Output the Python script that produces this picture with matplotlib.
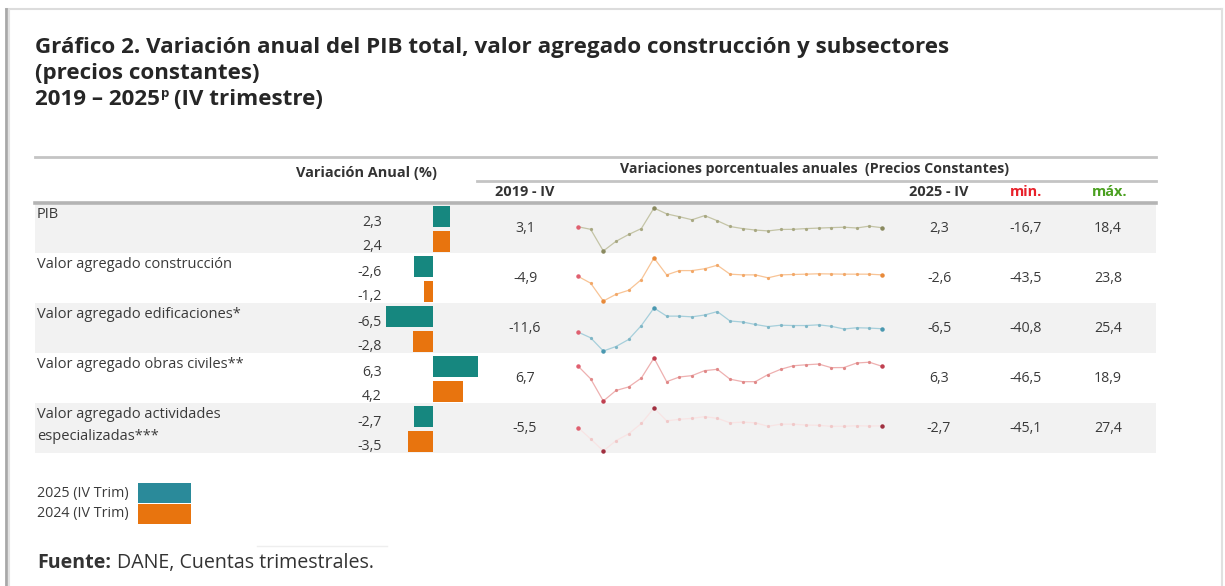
import matplotlib
matplotlib.use("Agg")
import matplotlib.pyplot as plt
from matplotlib.patches import Rectangle

W, H = 1225, 586
FONT = "Open Sans"
plt.rcParams['font.family'] = [FONT, 'DejaVu Sans']

# ---------------- data ----------------
categories = ["PIB", "Valor agregado construcción", "Valor agregado edificaciones*",
              "Valor agregado obras civiles**", "Valor agregado actividades\nespecializadas***"]
var_2025 = [2.3, -2.6, -6.5, 6.3, -2.7]
var_2024 = [2.4, -1.2, -2.8, 4.2, -3.5]
val_2019_iv = [3.1, -4.9, -11.6, 6.7, -5.5]
val_2025_iv = [2.3, -2.6, -6.5, 6.3, -2.7]
val_min = [-16.7, -43.5, -40.8, -46.5, -45.1]
val_max = [18.4, 23.8, 25.4, 18.9, 27.4]
quarters = [f"{y}-{q}" for y, q in [(2019, "IV")] + [(y, q) for y in range(2020, 2026)
                                                       for q in ("I", "II", "III", "IV")]]
pib_series = [3.1, 1.0, -16.7, -8.8, -3.2, 1.6, 18.4, 13.6, 11.3, 8.8, 12.2, 8.0, 3.3,
              1.6, 0.4, -0.3, 0.9, 1.0, 1.6, 2.0, 2.4, 2.7, 2.1, 3.6, 2.3]
construccion_series = [-4.9, -15.6, -43.5, -33.0, -26.7, -10.0, 23.8, -2.6, 4.1, 4.1, 7.0,
                       12.5, -1.5, -2.6, -2.6, -7.2, -2.6, -2.0, -1.5, -0.9, -1.2, -1.5,
                       -1.5, -1.5, -2.6]
edificaciones_series = [-11.6, -20.5, -40.8, -33.9, -23.0, -1.6, 25.4, 12.9, 12.9, 11.8, 14.6,
                        19.9, 5.4, 3.8, 0.0, -3.2, -1.1, -1.6, -1.6, -0.5, -2.8, -6.9, -5.0,
                        -5.5, -6.5]
obras_series = [6.7, -12.8, -46.5, -30.5, -25.1, -11.6, 18.9, -17.1, -10.0, -7.9, -0.3, 1.7,
                -13.3, -17.1, -17.1, -6.3, 1.7, 7.1, 8.6, 9.7, 4.2, 4.4, 11.3, 12.5, 6.3]
actividades_series = [-5.5, -24.8, -45.1, -27.7, -16.1, 1.3, 27.4, 5.8, 8.3, 10.0, 12.8, 10.0,
                      2.4, 3.6, 2.4, -3.4, 0.1, 0.1, -1.3, -1.8, -3.5, -3.4, -2.5, -3.0, -2.7]
series = [pib_series, construccion_series, edificaciones_series, obras_series, actividades_series]
legend_labels = ["2025 (IV Trim)", "2024 (IV Trim)"]

# ---------------- styles ----------------
TEAL = "#16877f"
TEAL_LEG = "#2a8a9a"
ORANGE = "#e8740e"
TXT = "#3a3a3a"
ROW_BG = "#f2f2f2"
spark_line = ["#c4c4a6", "#f8c496", "#a6cfdb", "#eeb0b0", "#f8e4e4"]
spark_mark = ["#a8a882", "#f2a868", "#7fb6c6", "#e08888", "#f0c8c8"]
spark_hi = ["#8a8a60", "#e88a3a", "#4a98b0", "#c04050", "#a03040"]

fig = plt.figure(figsize=(W / 100, H / 100), dpi=100)
fig.patch.set_facecolor("white")
R = fig.canvas.get_renderer()


def rect(x0, y0, x1, y1):
    return [x0 / W, 1 - y1 / H, (x1 - x0) / W, (y1 - y0) / H]


def fit(t, target_w):
    """scale the font size of text t so its rendered width is target_w pixels"""
    w = t.get_window_extent(R).width
    size = t.get_fontsize() * target_w / w
    t.set_fontsize(size)
    return size


ax = fig.add_axes([0, 0, 1, 1])
ax.set_xlim(0, W)
ax.set_ylim(H, 0)
ax.axis("off")

# frame
ax.plot([6, 1222], [9, 9], color="#dcdcdc", lw=1.5)
ax.plot([6, 6], [9, H], color="#a8a8a8", lw=2.0)
ax.plot([8.5, 8.5], [10, H], color="#e2e2e2", lw=1.5)
ax.plot([1222, 1222], [9, H], color="#e0e0e0", lw=1.5)

# title
TC = "#262626"
tt = ax.text(35, 53, "Gráfico 2. Variación anual del PIB total, valor agregado construcción y subsectores",
             fontsize=15, fontweight="bold", color=TC, va="baseline", ha="left")
tfs = fit(tt, 913)
ax.text(35, 79, "(precios constantes)", fontsize=tfs, fontweight="bold", color=TC,
        va="baseline", ha="left")
t1 = ax.text(35, 105, "2019 – 2025", fontsize=tfs, fontweight="bold", color=TC,
             va="baseline", ha="left")
fig.canvas.draw()
bb = t1.get_window_extent(R)
t2 = ax.text(bb.x1 + 1, 97, "p", fontsize=tfs * 0.6, fontweight="bold", color=TC,
             va="baseline", ha="left")
fig.canvas.draw()
bb2 = t2.get_window_extent(R)
ax.text(bb2.x1 + 5, 105, "(IV trimestre)", fontsize=tfs, fontweight="bold", color=TC,
        va="baseline", ha="left")

# table rules
TL, TR = 35, 1156
ax.plot([TL, TR], [157, 157], color="#c4c4c4", lw=2.0)
ax.plot([477, TR], [181, 181], color="#c4c4c4", lw=2.0)

# row backgrounds
for i in range(len(categories)):
    top = 203 + 50 * i
    if i % 2 == 0:
        ax.add_patch(Rectangle((TL, top), TR - TL, 50, facecolor=ROW_BG, edgecolor="none", zorder=0))
ax.plot([TL, TR], [202.5, 202.5], color="#b4b4b4", lw=2.6)

# headers
HC = "#333333"
h1 = ax.text(367, 173, "Variación Anual (%)", fontsize=9, fontweight="bold", color=HC,
             ha="center", va="center")
hfs = fit(h1, 141)
h2 = ax.text(815, 169, "Variaciones porcentuales anuales  (Precios Constantes)", fontsize=hfs,
             fontweight="bold", color=HC, ha="center", va="center")
fit(h2, 386)
ax.text(525, 192, "2019 - IV", fontsize=hfs, fontweight="bold", color=HC, ha="center", va="center")
ax.text(939, 192, "2025 - IV", fontsize=hfs, fontweight="bold", color=HC, ha="center", va="center")
ax.text(1026, 192, "min.", fontsize=hfs, fontweight="bold", color="#e8202a", ha="center", va="center")
ax.text(1110, 192, "máx.", fontsize=hfs, fontweight="bold", color="#4aa020", ha="center", va="center")


def fmt(v):
    return f"{v:.1f}".replace(".", ",")


probe = ax.text(0, -100, categories[1], fontsize=9)
fs = fit(probe, 196)
probe.remove()
nfs = fs * 0.97
for i, cat in enumerate(categories):
    top = 203 + 50 * i
    lines = cat.split("\n")
    for k, ln in enumerate(lines):
        ax.text(37, top + 12 + 22 * k, ln, fontsize=fs, color=TXT, ha="left", va="center")
    ax.text(382, top + 19, fmt(var_2025[i]), fontsize=nfs, color=TXT, ha="right", va="center")
    ax.text(382, top + 43, fmt(var_2024[i]), fontsize=nfs, color=TXT, ha="right", va="center")
    ax.text(525, top + 26, fmt(val_2019_iv[i]), fontsize=nfs, color=TXT, ha="center", va="center")
    ax.text(939, top + 26, fmt(val_2025_iv[i]), fontsize=nfs, color=TXT, ha="center", va="center")
    ax.text(1026, top + 26, fmt(val_min[i]), fontsize=nfs, color=TXT, ha="center", va="center")
    ax.text(1108, top + 26, fmt(val_max[i]), fontsize=nfs, color=TXT, ha="center", va="center")

# bars
bx = fig.add_axes(rect(385, 203, 481, 453))
bx.set_facecolor("none")
bx.set_xlim(-6.67, 6.67)
bx.set_ylim(len(categories), 0)
ypos = list(range(len(categories)))
bx.barh([y + 0.27 for y in ypos], var_2025, height=0.42, color=TEAL)
bx.barh([y + 0.765 for y in ypos], var_2024, height=0.42, color=ORANGE)
bx.axis("off")

# sparklines
for i, s in enumerate(series):
    top = 203 + 50 * i
    sx = fig.add_axes(rect(578, top + 5, 882, top + 48))
    sx.set_facecolor("none")
    sx.set_xlim(0, len(quarters) - 1)
    sx.set_ylim(min(s), max(s))
    xs = list(range(len(quarters)))
    sx.plot(xs, s, color=spark_line[i], lw=0.9, clip_on=False, solid_capstyle="round")
    sx.plot(xs, s, ls="none", marker="o", ms=1.3, color=spark_mark[i], clip_on=False)
    imin = s.index(min(s))
    imax = s.index(max(s))
    sx.plot([0], [s[0]], ls="none", marker="o", ms=2.2, color="#e06070", clip_on=False)
    sx.plot([imin, imax, len(s) - 1], [s[imin], s[imax], s[-1]], ls="none", marker="o", ms=2.2,
            color=spark_hi[i], clip_on=False)
    sx.axis("off")

# legend
ax.add_patch(Rectangle((138, 483), 53, 20, facecolor=TEAL_LEG, edgecolor="none"))
ax.add_patch(Rectangle((138, 504), 53, 20, facecolor=ORANGE, edgecolor="none"))
l1 = ax.text(37, 493, legend_labels[0], fontsize=8, color=TXT, ha="left", va="center")
lfs = fit(l1, 92)
ax.text(37, 513, legend_labels[1], fontsize=lfs, color=TXT, ha="left", va="center")

# source
ax.plot([257, 387], [546, 546], color="#eeeeee", lw=1.0)
tf = ax.text(37, 563, "Fuente:", fontsize=12.3, fontweight="bold", color="#333333",
             ha="left", va="center")
tg = ax.text(0, 563, "DANE, Cuentas trimestrales.", fontsize=12.3, color="#333333",
             ha="left", va="center")
fig.canvas.draw()
total = tf.get_window_extent(R).width + 5 + tg.get_window_extent(R).width
sc = 339 / total
tf.set_fontsize(12.3 * sc)
tg.set_fontsize(12.3 * sc)
fig.canvas.draw()
tg.set_x(37 + tf.get_window_extent(R).width + 5 * sc)

fig.savefig("out.png", dpi=100, facecolor="white")
